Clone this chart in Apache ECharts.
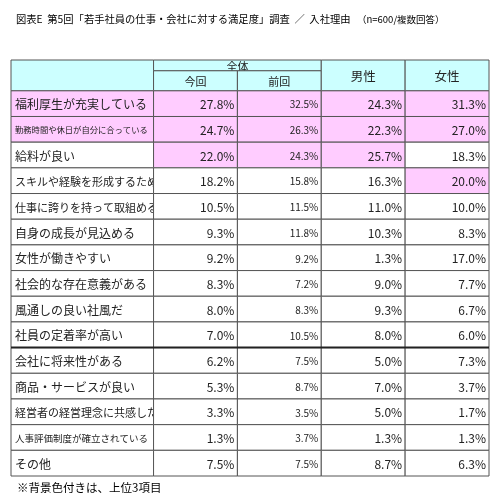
<!DOCTYPE html>
<html><head><meta charset="utf-8">
<script src="https://cdn.jsdelivr.net/npm/echarts@6/dist/echarts.min.js"></script>
<style>html,body{margin:0;padding:0;background:#fff}#c{width:503px;height:500px}</style>
</head><body><div id="c"></div>
<script>
const items = ['福利厚生が充実している','勤務時間や休日が自分に合っている','給料が良い','スキルや経験を形成するため','仕事に誇りを持って取組める','自身の成長が見込める','女性が働きやすい','社会的な存在意義がある','風通しの良い社風だ','社員の定着率が高い','会社に将来性がある','商品・サービスが良い','経営者の経営理念に共感した','人事評価制度が確立されている','その他'];
const thisTime = [27.8,24.7,22.0,18.2,10.5,9.3,9.2,8.3,8.0,7.0,6.2,5.3,3.3,1.3,7.5];
const lastTime = [32.5,26.3,24.3,15.8,11.5,11.8,9.2,7.2,8.3,10.5,7.5,8.7,3.5,3.7,7.5];
const male = [24.3,22.3,25.7,16.3,11.0,10.3,1.3,9.0,9.3,8.0,5.0,7.0,5.0,1.3,8.7];
const female = [31.3,27.0,18.3,20.0,10.0,8.3,17.0,7.7,6.7,6.0,7.3,3.7,1.7,1.3,6.3];
const highlight = [[1,1,1,1],[1,1,1,1],[1,1,1,0],[0,0,0,1],[0,0,0,0],[0,0,0,0],[0,0,0,0],[0,0,0,0],[0,0,0,0],[0,0,0,0],[0,0,0,0],[0,0,0,0],[0,0,0,0],[0,0,0,0],[0,0,0,0]];
const headers = ['全体','今回','前回','男性','女性'];
const title = '図表E  第5回「若手社員の仕事・会社に対する満足度」調査  ／  入社理由';
const note = '（n=600/複数回答）';
const footnote = '※背景色付きは、上位3項目';

const colX = [[0,1.7],[1.7,2.7],[2.7,3.7],[3.7,4.7],[4.7,5.7]];
const cells = [];
cells.push([0,1.7,-1.2,0,'','h',12]);
cells.push([1.7,3.7,-1.2,-0.78,headers[0],'hc',11]);
cells.push([1.7,2.7,-0.78,0,headers[1],'hc',11]);
cells.push([2.7,3.7,-0.78,0,headers[2],'hc',11]);
cells.push([3.7,4.7,-1.2,0,headers[3],'hc',12.5]);
cells.push([4.7,5.7,-1.2,0,headers[4],'hc',12.5]);
const series = [thisTime,lastTime,male,female];
items.forEach((it,r)=>{
  const fs = it.length>=16?8.3:it.length>=14?9.5:it.length>=13?11:12;
  cells.push([0,1.7,r,r+1,it,'l',fs]);
  series.forEach((s,c)=>{
    cells.push([colX[c+1][0],colX[c+1][1],r,r+1,s[r].toFixed(1)+'%',highlight[r][c]?'vp':'v',c===1?10:12]);
  });
});

const chart = echarts.init(document.getElementById('c'));
chart.setOption({
  animation:false,
  title:[{text:title,left:11,top:9,textStyle:{fontSize:10.3,fontWeight:'normal',color:'#000',fontFamily:'Noto Sans CJK JP',textDecoration:'underline'}},
         {text:note,left:352,top:10,textStyle:{fontSize:9.5,fontWeight:'normal',color:'#000',fontFamily:'Noto Sans CJK JP'}},
         {text:footnote,left:12,top:477,textStyle:{fontSize:11.5,fontWeight:'normal',color:'#000',fontFamily:'Noto Sans CJK JP'}}],
  grid:{left:11,right:14,top:60,bottom:24},
  xAxis:{type:'value',min:0,max:5.7,show:false},
  yAxis:{type:'value',min:-1.2,max:15,inverse:true,show:false},
  series:[{type:'custom',data:cells,clip:false,
    renderItem:(p,api)=>{
      const d=cells[p.dataIndex];
      const a=api.coord([d[0],d[2]]),b=api.coord([d[1],d[3]]);
      const x=a[0],y=a[1],w=b[0]-a[0],h=b[1]-a[1];
      const t=d[5];
      const fill = t[0]==='h'?'#ccffff':t==='vp'?'#ffccff':(t==='l'&&d[2]<2)?'#ffccff':'#fff';
      const children=[{type:'rect',shape:{x,y,width:w,height:h},style:{fill,stroke:'#555',lineWidth:1}}];
      let tx,align;
      if(t==='l'){tx=x+4;align='left';}else if(t==='hc'){tx=x+w/2;align='center';}else{tx=x+w-3;align='right';}
      children.push({type:'text',style:{x:tx,y:y+h/2+1,text:d[4],textAlign:align,textVerticalAlign:'middle',fontSize:d[6],fill:'#222',fontFamily:'Noto Sans CJK JP'}});
      return {type:'group',children};
    }},
    {type:'custom',data:[[0,10]],clip:false,renderItem:(p,api)=>{
      const a=api.coord([0,10]),b=api.coord([5.7,10]);
      return {type:'line',shape:{x1:a[0],y1:a[1],x2:b[0],y2:b[1]},style:{stroke:'#222',lineWidth:2}};
    }}]
});
</script></body></html>
